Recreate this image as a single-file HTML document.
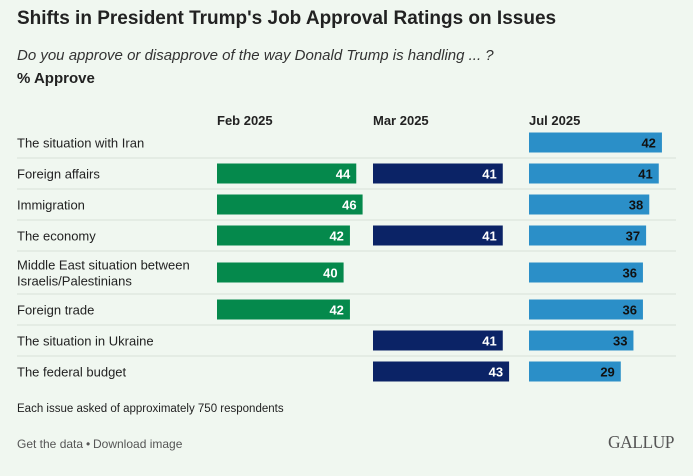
<!DOCTYPE html>
<html><head><meta charset="utf-8">
<style>
html,body{margin:0;padding:0;background:#f0f7f0;}
body{width:693px;height:476px;overflow:hidden;font-family:"Liberation Sans",sans-serif;position:relative;}
.t{position:absolute;white-space:nowrap;}
</style></head>
<body>
<div class="t" style="left:17px;top:8px;font-size:19px;font-weight:bold;color:#222;">Shifts in President Trump's Job Approval Ratings on Issues</div>
<div class="t" style="left:17px;top:47px;font-size:15px;font-style:italic;color:#333;">Do you approve or disapprove of the way Donald Trump is handling ... ?</div>
<div class="t" style="left:17px;top:70px;font-size:15px;font-weight:bold;color:#222;">% Approve</div>
<svg id="chart" width="693" height="476" style="position:absolute;left:0;top:0;" font-family="Liberation Sans, sans-serif"></svg>
<div class="t" style="left:17px;top:403px;font-size:11.5px;color:#222;">Each issue asked of approximately 750 respondents</div>
<div class="t" style="left:17px;top:437px;font-size:12px;color:#555;">Get the data</div>
<div class="t" style="left:86px;top:437px;font-size:12px;color:#555;">•</div>
<div class="t" style="left:93px;top:437px;font-size:12px;color:#555;">Download image</div>
<div class="t" style="left:608px;top:432px;font-size:17.5px;font-family:'Liberation Serif',serif;color:#555;letter-spacing:-0.5px;">GALLUP</div>
<script>
const categories=["The situation with Iran","Foreign affairs","Immigration","The economy","Middle East situation between|Israelis/Palestinians","Foreign trade","The situation in Ukraine","The federal budget"];
const periods=["Feb 2025","Mar 2025","Jul 2025"];
const feb=[null,44,46,42,40,42,null,null];
const mar=[null,41,null,41,null,null,41,43];
const jul=[42,41,38,37,36,36,33,29];
const series=[feb,mar,jul];
const colors=["#05894c","#0b2366","#2b8fc8"];
const labelColors=["#fff","#fff","#111"];
const svg=document.getElementById('chart');
const NS="http://www.w3.org/2000/svg";
const colX=[217,373,529];
const pxPerUnit=3.165;
function xw(v){return v*pxPerUnit;}
const rowH=categories.map(c=>c.includes('|')?43:31);
let tops=[];let y=127;
rowH.forEach(h=>{tops.push(y);y+=h;});
function mk(tag,attrs){const e=document.createElementNS(NS,tag);for(const k in attrs)e.setAttribute(k,attrs[k]);svg.appendChild(e);return e;}
periods.forEach((p,i)=>{
 const t=mk('text',{x:colX[i],y:125,'font-size':13,'font-weight':'bold',fill:'#222'});
 t.textContent=p;
 
 
});
categories.forEach((c,r)=>{
 const top=tops[r],h=rowH[r],cy=top+h/2;
 if(r>0){const l=mk('line',{x1:17,x2:676,y1:top,y2:top,stroke:'#d8e0d8','stroke-width':1});
  
  }
 const parts=c.split('|');
 parts.forEach((s,k)=>{
  const t=mk('text',{x:17,y:cy+5+(parts.length>1?(k-0.5)*16:0),'font-size':13,fill:'#222'});
  t.textContent=s;
  
  
 });
 series.forEach((arr,i)=>{
  const v=arr[r];if(v==null)return;
  const w=xw(v);
  const b=mk('rect',{x:colX[i],y:cy-10,width:w,height:20,fill:colors[i]});
  
  
  const t=mk('text',{x:colX[i]+w-6,y:cy+5,'font-size':13,'font-weight':'bold',fill:labelColors[i],'text-anchor':'end'});
  t.textContent=v;
  
  
 });
});
</script>
</body></html>
